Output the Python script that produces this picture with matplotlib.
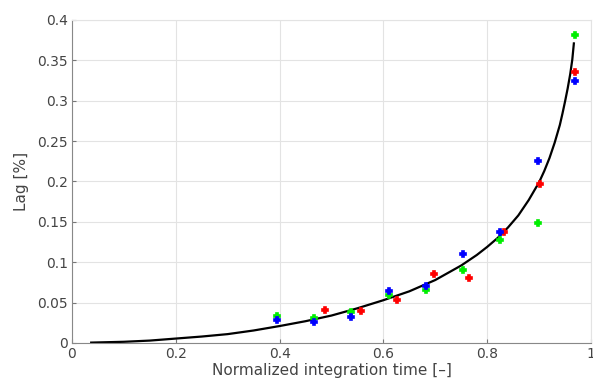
import matplotlib
matplotlib.use("Agg")
import matplotlib.pyplot as plt

# -----------------------
# DATA
# -----------------------
green_x = [0.395, 0.467, 0.538, 0.610, 0.682, 0.753, 0.825, 0.897, 0.969]
green_y = [0.034, 0.031, 0.038, 0.059, 0.066, 0.090, 0.128, 0.148, 0.381]

blue_x = [0.395, 0.467, 0.538, 0.610, 0.682, 0.753, 0.825, 0.897, 0.969]
blue_y = [0.0285, 0.026, 0.032, 0.065, 0.071, 0.110, 0.138, 0.225, 0.324]

red_x = [0.488, 0.556, 0.626, 0.697, 0.764, 0.833, 0.901, 0.969]
red_y = [0.041, 0.040, 0.053, 0.086, 0.080, 0.1375, 0.197, 0.335]

fit_x = [0.037, 0.1, 0.15, 0.2, 0.25, 0.3, 0.35, 0.4, 0.45, 0.5, 0.55, 0.6,
         0.65, 0.7, 0.75, 0.78, 0.8, 0.82, 0.84, 0.86, 0.88, 0.9, 0.91, 0.92,
         0.93, 0.94, 0.945, 0.95, 0.955, 0.96, 0.964, 0.967]
fit_y = [0.0005, 0.0015, 0.003, 0.0055, 0.008, 0.011, 0.0155, 0.021, 0.027,
         0.034, 0.043, 0.053, 0.064, 0.078, 0.096, 0.109, 0.119, 0.130, 0.143,
         0.158, 0.177, 0.199, 0.213, 0.229, 0.248, 0.270, 0.284, 0.299, 0.315,
         0.333, 0.351, 0.371]

x_ticks = [0, 0.2, 0.4, 0.6, 0.8, 1]
x_labels = ["0", "0.2", "0.4", "0.6", "0.8", "1"]
y_ticks = [0, 0.05, 0.1, 0.15, 0.2, 0.25, 0.3, 0.35, 0.4]
y_labels = ["0", "0.05", "0.1", "0.15", "0.2", "0.25", "0.3", "0.35", "0.4"]

# -----------------------
# PLOT
# -----------------------
fig = plt.figure(figsize=(5.93, 3.92), dpi=100)
ax = fig.add_axes([0.1214, 0.125, 0.8752, 0.824])

ax.plot(fit_x, fit_y, color="black", lw=1.6, zorder=2, solid_joinstyle="round")
for xs, ys, c in [(red_x, red_y, "#ff0000"), (green_x, green_y, "#00ee00"),
                  (blue_x, blue_y, "#0000ff")]:
    ax.plot(xs, ys, "P", color=c, ms=4.5, mew=1.2, mec=c, zorder=3)

ax.set_xlim(0, 1)
ax.set_ylim(0, 0.4)
ax.set_xticks(x_ticks)
ax.set_xticklabels(x_labels)
ax.set_yticks(y_ticks)
ax.set_yticklabels(y_labels)

ax.grid(True, color="#e3e3e3", lw=0.8)
ax.set_axisbelow(True)
ax.tick_params(direction="in", length=3, colors="#777777", labelcolor="#444444",
               labelsize=10, pad=3)
for s in ["left", "bottom"]:
    ax.spines[s].set_color("#888888")
for s in ["top", "right"]:
    ax.spines[s].set_color("#e3e3e3")

ax.set_xlabel("Normalized integration time [\u2013]", fontsize=11, color="#444444", labelpad=1)
ax.set_ylabel("Lag [%]", fontsize=11, color="#444444", labelpad=6)

fig.savefig("out.png", dpi=100)
